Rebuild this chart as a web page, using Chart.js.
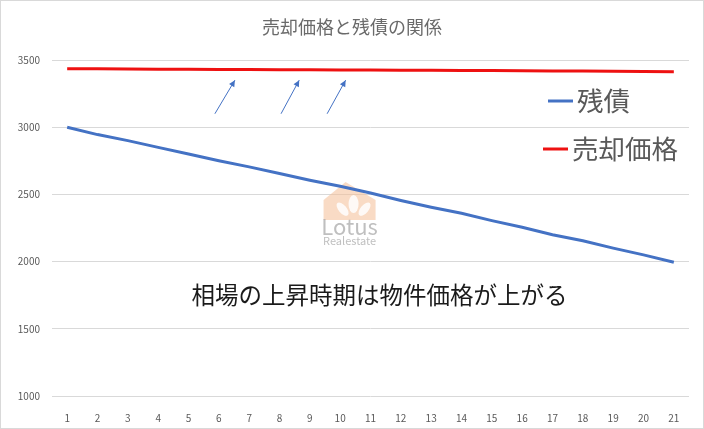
<!DOCTYPE html>
<html>
<head>
<meta charset="utf-8">
<script src="https://cdn.jsdelivr.net/npm/chart.js@4/dist/chart.umd.min.js"></script>
<style>
  html, body { margin: 0; padding: 0; background: #fff; }
  #wrap { position: relative; width: 702px; height: 427px; border: 1px solid #d9d9d9; }
</style>
</head>
<body>
<div id="wrap"><canvas id="c" width="702" height="427"></canvas></div>
<script>
//categories and series
const years = ['1','2','3','4','5','6','7','8','9','10','11','12','13','14','15','16','17','18','19','20','21']
const zansai = [3000,2945,2900,2850,2800,2750,2705,2655,2605,2560,2510,2455,2405,2360,2305,2255,2200,2155,2100,2050,1995]
const baikyaku = [3435,3434,3433,3432,3431,3430,3429,3428,3427,3426,3425,3424,3423,3422,3421,3420,3419,3418,3417,3414,3412]
const seriesNames = ['残債', '売却価格']
const titleText = '売却価格と残債の関係'
const noteText = '相場の上昇時期は物件価格が上がる'
//arrows in data units: [x index from, value from, x index to, value to]
const arrows = [[4.87, 3100, 5.53, 3350], [7.05, 3100, 7.65, 3350], [8.57, 3100, 9.18, 3350]]

const FONT = '"Noto Sans CJK JP", "Noto Sans", sans-serif'
const BLUE = '#4472c4'
const RED = '#ee1111'

//draws title, note, arrows, watermark and the big legend
const decorations = {
    id: 'decorations',
    beforeDatasetsDraw(chart) {
        const {ctx} = chart
        const x = chart.scales.x, y = chart.scales.y
        //watermark
        const cx = x.getPixelForValue(9.31), cy = y.getPixelForValue(2443)
        ctx.save()
        ctx.fillStyle = 'rgba(244,190,150,0.55)'
        ctx.beginPath()
        ctx.moveTo(cx - 26, cy + 18)
        ctx.lineTo(cx - 26, cy - 2)
        ctx.lineTo(cx - 4, cy - 20)
        ctx.lineTo(cx + 26, cy - 2)
        ctx.lineTo(cx + 26, cy + 18)
        ctx.closePath()
        ctx.fill()
        ctx.fillStyle = 'rgba(255,255,255,0.85)'
        ctx.beginPath(); ctx.ellipse(cx + 4, cy + 2, 5, 9, 0, 0, Math.PI * 2); ctx.fill()
        ctx.beginPath(); ctx.ellipse(cx - 7, cy + 7, 4, 8, -0.7, 0, Math.PI * 2); ctx.fill()
        ctx.beginPath(); ctx.ellipse(cx + 15, cy + 7, 4, 8, 0.7, 0, Math.PI * 2); ctx.fill()
        ctx.fillStyle = 'rgba(170,170,170,0.75)'
        ctx.textAlign = 'center'
        ctx.textBaseline = 'middle'
        ctx.font = '22px ' + FONT
        ctx.fillText('Lotus', cx, cy + 25)
        ctx.font = '11px ' + FONT
        ctx.fillText('Realestate', cx, cy + 39)
        ctx.restore()
    },
    afterDraw(chart) {
        const {ctx} = chart
        const x = chart.scales.x, y = chart.scales.y
        ctx.save()
        //title
        ctx.fillStyle = '#6a6a6a'
        ctx.textAlign = 'center'
        ctx.textBaseline = 'middle'
        ctx.font = '18px ' + FONT
        ctx.fillText(titleText, 351, 26)
        //note
        ctx.fillStyle = '#1a1a1a'
        ctx.font = '23.5px ' + FONT
        ctx.textAlign = 'left'
        ctx.fillText(noteText, x.getPixelForValue(4.1), y.getPixelForValue(1750))
        //arrows
        ctx.strokeStyle = BLUE
        ctx.fillStyle = BLUE
        ctx.lineWidth = 1
        arrows.forEach(a => {
            const x0 = x.getPixelForValue(a[0]), y0 = y.getPixelForValue(a[1])
            const x1 = x.getPixelForValue(a[2]), y1 = y.getPixelForValue(a[3])
            const ang = Math.atan2(y1 - y0, x1 - x0)
            ctx.beginPath(); ctx.moveTo(x0, y0); ctx.lineTo(x1, y1); ctx.stroke()
            ctx.beginPath()
            ctx.moveTo(x1, y1)
            ctx.lineTo(x1 - 7 * Math.cos(ang - 0.45), y1 - 7 * Math.sin(ang - 0.45))
            ctx.lineTo(x1 - 7 * Math.cos(ang + 0.45), y1 - 7 * Math.sin(ang + 0.45))
            ctx.closePath(); ctx.fill()
        })
        //legend
        ctx.font = '26.5px ' + FONT
        ctx.fillStyle = '#595959'
        ctx.lineWidth = 3
        const rows = [[547, 100, BLUE, seriesNames[0]], [542, 148, RED, seriesNames[1]]]
        rows.forEach(r => {
            ctx.strokeStyle = r[2]
            ctx.beginPath(); ctx.moveTo(r[0], r[1]); ctx.lineTo(r[0] + 25, r[1]); ctx.stroke()
            ctx.fillText(r[3], r[0] + 29, r[1])
        })
        ctx.restore()
    }
}

new Chart(document.getElementById('c'), {
    type: 'line',
    data: {
        labels: years,
        datasets: [
            {label: seriesNames[0], data: zansai, borderColor: BLUE, borderWidth: 3, pointRadius: 0, tension: 0},
            {label: seriesNames[1], data: baikyaku, borderColor: RED, borderWidth: 3, pointRadius: 0, tension: 0}
        ]
    },
    options: {
        responsive: false,
        animation: false,
        layout: {padding: {top: 59, right: 14, left: 0, bottom: 0}},
        plugins: {legend: {display: false}, title: {display: false}, tooltip: {enabled: false}},
        scales: {
            x: {
                offset: true,
                grid: {display: false},
                border: {display: false},
                ticks: {color: '#595959', font: {size: 10, family: FONT}, padding: 8, maxRotation: 0},
                afterFit: s => { s.height = 32 }
            },
            y: {
                min: 1000, max: 3500,
                grid: {color: '#d9d9d9', drawTicks: false},
                border: {display: false},
                ticks: {stepSize: 500, color: '#595959', font: {size: 10, family: FONT}, padding: 12,
                    callback: v => String(v)},
                afterFit: s => { s.width = 51 }
            }
        }
    },
    plugins: [decorations]
})
</script>
</body>
</html>
